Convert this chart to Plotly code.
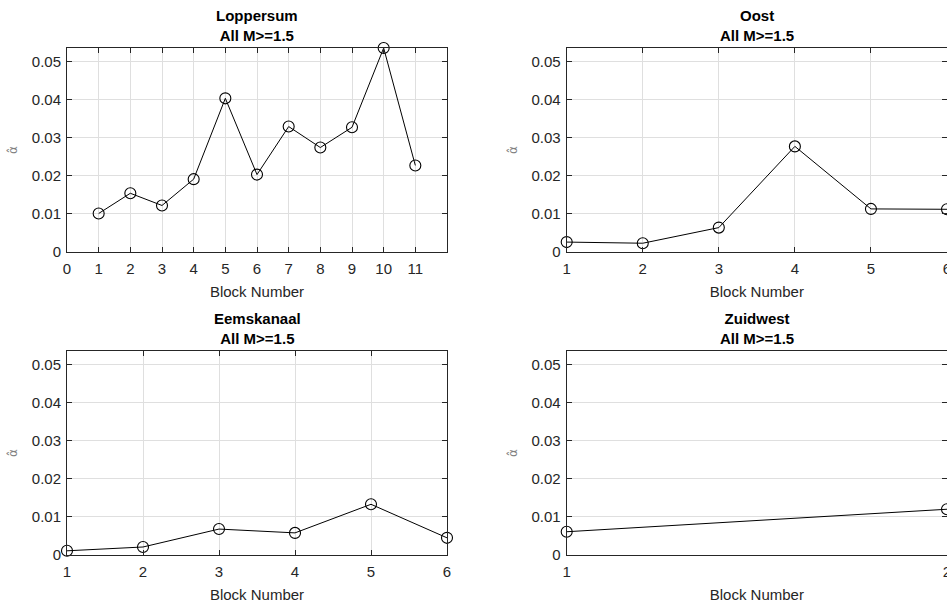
import plotly.graph_objects as go

# Estimated alpha-hat per block for each region (all events M>=1.5)
loppersum_blocks = [1, 2, 3, 4, 5, 6, 7, 8, 9, 10, 11]
loppersum_alpha = [0.0101, 0.0154, 0.0122, 0.0191, 0.0403, 0.0203,
                   0.0329, 0.0274, 0.0327, 0.0535, 0.0227]

oost_blocks = [1, 2, 3, 4, 5, 6]
oost_alpha = [0.0026, 0.0023, 0.0064, 0.0277, 0.0113, 0.0112]

eemskanaal_blocks = [1, 2, 3, 4, 5, 6]
eemskanaal_alpha = [0.0011, 0.0021, 0.0068, 0.0058, 0.0133, 0.0045]

zuidwest_blocks = [1, 2]
zuidwest_alpha = [0.0061, 0.0120]

region_names = ["Loppersum", "Oost", "Eemskanaal", "Zuidwest"]
subtitle = "All M>=1.5"
y_ticks = [0, 0.01, 0.02, 0.03, 0.04, 0.05]
y_ticktext = ["0", "0.01", "0.02", "0.03", "0.04", "0.05"]
loppersum_xticks = list(range(0, 12))

W, H = 947, 607
FONT = "Liberation Sans, Arial, Helvetica, sans-serif"
TXT = "#262626"
GRID = "#dfdfdf"

y_max = max(loppersum_alpha + oost_alpha + eemskanaal_alpha + zuidwest_alpha)


def px_x(a, b):
    return [a / W, b / W]


def px_y(top, bottom):
    return [(H - bottom) / H, (H - top) / H]


panels = [
    dict(x=loppersum_blocks, y=loppersum_alpha, xd=px_x(67, 447), yd=px_y(48, 252),
         xr=[0, 12], xt=loppersum_xticks),
    dict(x=oost_blocks, y=oost_alpha, xd=px_x(566.7, 947), yd=px_y(48, 252),
         xr=[1, 6], xt=oost_blocks),
    dict(x=eemskanaal_blocks, y=eemskanaal_alpha, xd=px_x(67, 447), yd=px_y(351, 555),
         xr=[1, 6], xt=eemskanaal_blocks),
    dict(x=zuidwest_blocks, y=zuidwest_alpha, xd=px_x(566.7, 947), yd=px_y(351, 555),
         xr=[1, 2], xt=zuidwest_blocks),
]

fig = go.Figure()
layout = dict(
    width=W, height=H,
    margin=dict(l=0, r=0, t=0, b=0),
    paper_bgcolor="white", plot_bgcolor="white",
    showlegend=False,
    font=dict(family=FONT, size=15, color=TXT),
    annotations=[],
)

for i, p in enumerate(panels):
    n = "" if i == 0 else str(i + 1)
    fig.add_trace(go.Scatter(
        x=p["x"], y=p["y"], mode="lines+markers",
        xaxis="x" + n, yaxis="y" + n,
        line=dict(color="black", width=1),
        marker=dict(symbol="circle-open", size=11, color="black",
                    line=dict(width=1.1, color="black")),
        cliponaxis=False,
    ))
    layout["xaxis" + n] = dict(
        domain=p["xd"], anchor="y" + n, range=p["xr"],
        tickmode="array", tickvals=p["xt"], ticktext=[str(v) for v in p["xt"]],
        showline=True, mirror="ticks", linecolor=TXT, linewidth=1,
        ticks="inside", ticklen=5, tickcolor=TXT,
        showgrid=True, gridcolor=GRID, gridwidth=1, zeroline=False,
        tickfont=dict(size=15, color=TXT), automargin=False,
        ticklabelstandoff=3, ticklabeloverflow="allow",
        title=dict(text="Block Number", font=dict(size=15, color=TXT), standoff=10),
    )
    layout["yaxis" + n] = dict(
        domain=p["yd"], anchor="x" + n, range=[0, y_max],
        tickmode="array", tickvals=y_ticks, ticktext=y_ticktext,
        showline=True, mirror="ticks", linecolor=TXT, linewidth=1,
        ticks="inside", ticklen=5, tickcolor=TXT,
        showgrid=True, gridcolor=GRID, gridwidth=1, zeroline=False,
        tickfont=dict(size=15, color=TXT), automargin=False,
        ticklabelstandoff=2, ticklabeloverflow="allow",
        title=dict(text="\u03b1\u0302",
                   font=dict(size=12, color="#808080", family="DejaVu Sans"),
                   standoff=11),
    )
    xc = (p["xd"][0] + p["xd"][1]) / 2
    layout["annotations"].append(dict(
        text=f"<b>{region_names[i]}</b><br><b>{subtitle}</b>",
        x=xc, y=p["yd"][1], xref="paper", yref="paper",
        xanchor="center", yanchor="bottom", yshift=2, showarrow=False,
        font=dict(size=15, color="black", family=FONT),
    ))

fig.update_layout(**layout)
fig.write_html("out.html")
